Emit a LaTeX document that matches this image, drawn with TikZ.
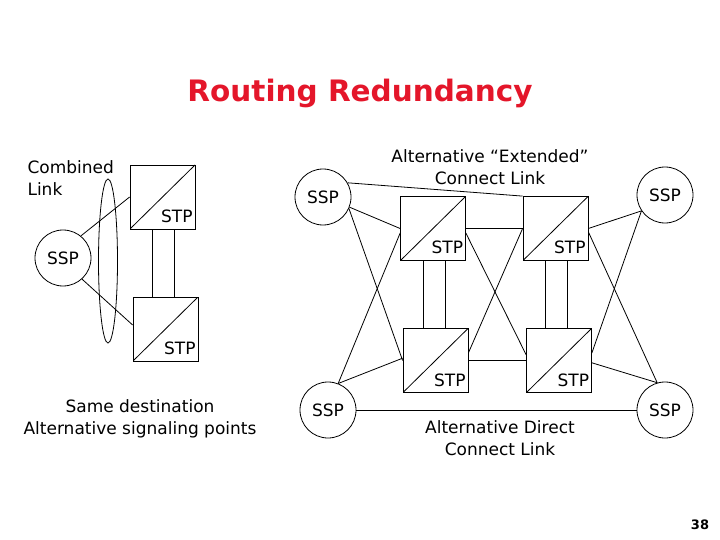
\documentclass[tikz,border=0pt]{standalone}
\usepackage{fontspec}
\setmainfont{DejaVu Sans}
\usetikzlibrary{positioning,shapes.geometric,calc}
\definecolor{titlered}{RGB}{228,22,42}

\begin{document}
\begin{tikzpicture}[
    x=1pt, y=-1pt,
    stp/.style={draw, line width=0.8pt, minimum width=65pt, minimum height=64pt, inner sep=2.5pt, text width=60pt, align=right, text height=55pt, text depth=4pt, font=\fontsize{17}{20}\selectfont,
      path picture={\draw[line width=0.8pt] (path picture bounding box.south west) -- (path picture bounding box.north east);}},
    ssp/.style={draw, circle, line width=0.8pt, minimum size=56pt, inner sep=0pt, font=\fontsize{17}{20}\selectfont},
    link/.style={line width=0.8pt},
    txt/.style={align=center, font=\fontsize{17}{22}\selectfont},
    twin/.style={line width=0.8pt}
  ]
    \useasboundingbox (0,0) rectangle (720,540);

    \node[font=\fontsize{29.5}{34}\selectfont\bfseries, text=titlered] (title) at (360,93) {Routing Redundancy};

    % left: combined link
    \node[stp] (stp1) at (162.5,197) {STP};
    \node[stp] (stp2) at (165.5,329) {STP};
    \node[ssp] (ssp1) at (63,258) {SSP};
    \node[draw, ellipse, line width=0.8pt, minimum width=19pt, minimum height=164pt, inner sep=0pt] (bundle) at (108,261) {};
    \node[txt, align=left, anchor=west] (comb) at (24,178) {Combined\\Link};
    \node[txt] (same) at (140,419) {Same destination\\Alternative signaling points};

    % right: quad
    \node[ssp] (sspA) at (323,197) {SSP};
    \node[ssp] (sspB) at (665,195) {SSP};
    \node[ssp] (sspC) at (328,410) {SSP};
    \node[ssp] (sspD) at (665,410) {SSP};
    \node[stp] (stpA) at (433,228.5) {STP};
    \node[stp] (stpB) at (555.5,228.5) {STP};
    \node[stp] (stpC) at (435.5,360.5) {STP};
    \node[stp] (stpD) at (559,360.5) {STP};
    \node[txt] (ext) at (490,167) {Alternative “Extended”\\Connect Link};
    \node[txt] (direct) at (500,438) {Alternative Direct\\Connect Link};

    \node[font=\fontsize{13}{15}\selectfont\bfseries] (page) at (700,525) {38};

    % left links
    \draw[link] (ssp1.51) -- (stp1.west);
    \draw[link] (ssp1.-48) -- (stp2.173);
    \draw[twin] ([xshift=-10pt]stp1.south) -- ([xshift=-10pt]stp1.south |- stp2.north);
    \draw[twin] ([xshift=12pt]stp1.south) -- ([xshift=12pt]stp1.south |- stp2.north);

    % right links
    \draw[twin] ([xshift=-10pt]stpA.south) -- ([xshift=-10pt]stpA.south |- stpC.north);
    \draw[twin] ([xshift=12pt]stpA.south) -- ([xshift=12pt]stpA.south |- stpC.north);
    \draw[twin] ([xshift=-10pt]stpB.south) -- ([xshift=-10pt]stpB.south |- stpD.north);
    \draw[twin] ([xshift=12pt]stpB.south) -- ([xshift=12pt]stpB.south |- stpD.north);
    \draw[link] (stpA.east) -- (stpB.west);
    \draw[link] (stpC.east) -- (stpD.west);
    \draw[link] (sspA.30) -- (stpB.north west);
    \draw[link] (sspA.-21) -- (stpA.west);
    \draw[link] (sspA.-24) -- (stpC.west);
    \draw[link] (sspC.69) -- (stpC.176);
    \draw[link] (sspC.69) -- (stpA.188);
    \draw[link] (stpA.-8) -- (stpD.170);
    \draw[link] (stpB.west) -- (stpC.13);
    \draw[link] (stpB.-6) -- (sspD.106);
    \draw[link] (stpD.-4) -- (sspD.106);
    \draw[link] (sspB.214) -- (stpB.east);
    \draw[link] (sspB.214) -- (stpD.13);
    \draw[link] (sspC.east) -- (sspD.west);
  \end{tikzpicture}
\end{document}
